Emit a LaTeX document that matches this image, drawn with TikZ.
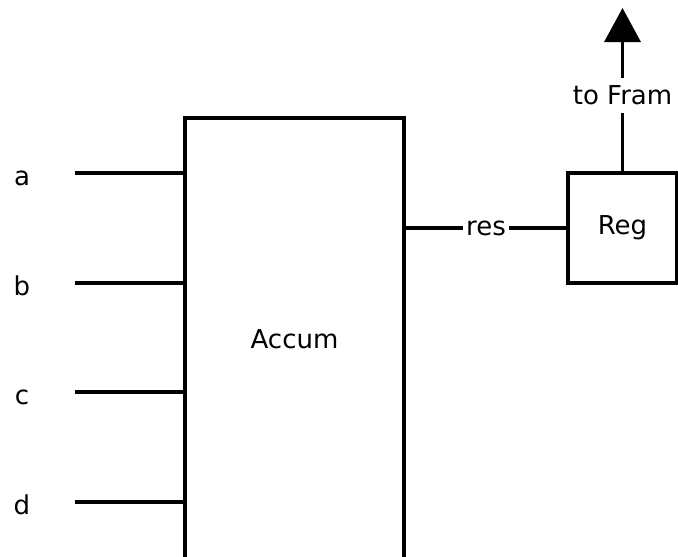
\documentclass[tikz,border=0pt]{standalone}
\usepackage{fontspec}
\setmainfont{DejaVu Sans}
\usetikzlibrary{arrows.meta,positioning}
\tikzset{
    blk/.style={draw, line width=3.4pt, inner sep=0pt, outer sep=0pt,
                anchor=north west},
    wire/.style={line width=3.4pt},
    wirelbl/.style={fill=white, inner xsep=3pt, inner ysep=#1},
    wirelbl/.default=3pt,
}

\begin{document}
\begin{tikzpicture}[
    x=1pt, y=-1pt,
    font=\fontsize{26}{30}\selectfont,
    arr/.style={-{Triangle[length=34pt,width=36pt]}, line width=3.4pt}
]
    \path[use as bounding box, clip] (0,0) rectangle (678,557);
    \node[blk, minimum width=219pt, minimum height=442pt] (accum) at (185,118) {Accum};
    \node[blk, minimum width=109pt, minimum height=110pt] (reg) at (568,173) {Reg};
    % the four inputs
    \foreach \p/\y in {a/173,b/283,c/392,d/502} {
        \node[anchor=base] (lbl\p) at (22,\y+12) {\p};
        \coordinate (in\p) at (75,\y);
        \draw[wire] (in\p) -- (accum.west |- in\p);
    }
    \draw[wire] (accum.east |- reg.west) -- node[wirelbl] (reslbl) {res} (reg.west);
    \coordinate (ytop) at (0,8);
    \draw[arr] (reg.north) -- node[wirelbl=8pt, pos=.47] (framlbl) {to Fram} (reg.north |- ytop);
\end{tikzpicture}
\end{document}
